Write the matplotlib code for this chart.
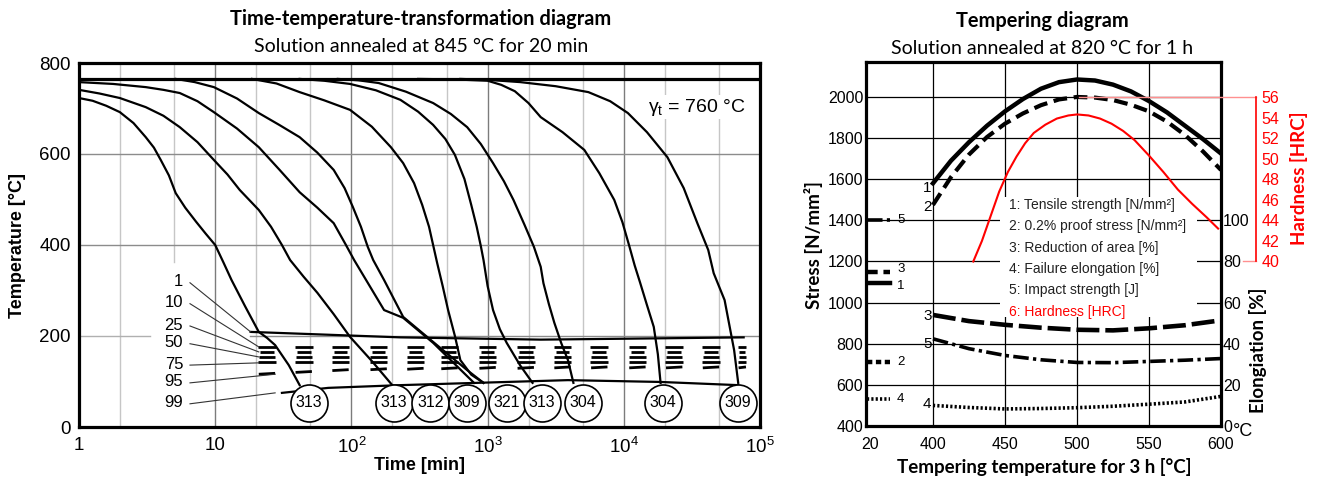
import numpy as np
import matplotlib
matplotlib.use('Agg')
import matplotlib.pyplot as plt
from matplotlib.patches import Rectangle
from matplotlib.ticker import NullLocator
from matplotlib.transforms import blended_transform_factory

plt.rcParams['font.family'] = ['Liberation Sans', 'DejaVu Sans']
plt.rcParams['mathtext.fontset'] = 'custom'
plt.rcParams['mathtext.rm'] = 'Liberation Sans'
plt.rcParams['mathtext.it'] = 'Liberation Sans:italic'
plt.rcParams['mathtext.bf'] = 'Liberation Sans:bold'

# ---------------- TTT diagram (time as log10 of minutes, temperature in C)
gamma_t = 765
a_lgt = [0, 0.10, 0.20, 0.30, 0.40, 0.49, 0.55, 0.60, 0.66, 0.71, 0.78, 0.86, 0.93, 1.0, 1.06,
         1.12, 1.22, 1.32, 1.38, 1.44, 1.54, 1.62]
a_T = [723, 717, 706, 692, 668, 637, 614, 587, 553, 514, 482, 451, 425, 400, 362,
       323, 265, 209, 196, 180, 136, 92]
b_lgt = [0, 0.15, 0.30, 0.49, 0.62, 0.74, 0.87, 0.99, 1.09, 1.18, 1.32, 1.41, 1.49, 1.55, 1.65,
         1.75, 1.87, 1.99, 2.15, 2.30]
b_T = [741, 733, 723, 703, 684, 659, 626, 587, 555, 521, 477, 440, 400, 367, 330,
       295, 248, 198, 145, 92]
c_lgt = [0, 0.25, 0.49, 0.62, 0.74, 0.87, 0.99, 1.16, 1.32, 1.47, 1.62, 1.75, 1.87, 1.96, 2.02,
         2.13, 2.24, 2.38, 2.60, 2.90]
c_T = [758, 754, 747, 741, 734, 716, 692, 656, 615, 566, 516, 482, 448, 400, 367,
       312, 257, 240, 185, 97]
d_lgt = [0.71, 0.85, 0.99, 1.16, 1.32, 1.47, 1.62, 1.75, 1.87, 1.95, 2.01, 2.07, 2.12, 2.16, 2.24,
         2.38, 2.60, 2.85, 2.97]
d_T = [765, 758, 747, 722, 690, 664, 637, 603, 565, 525, 484, 440, 396, 367, 323,
       242, 187, 125, 97]
e_lgt = [1.27, 1.45, 1.62, 1.80, 1.99, 2.15, 2.29, 2.38, 2.46, 2.52, 2.57, 2.60, 2.63, 2.67, 2.71,
         2.76, 2.80, 2.88, 2.97]
e_T = [765, 755, 736, 718, 697, 660, 615, 580, 536, 488, 440, 400, 360, 310, 257,
       200, 147, 115, 97]
f_lgt = [1.62, 1.80, 1.99, 2.18, 2.36, 2.49, 2.60, 2.69, 2.76, 2.83, 2.88, 2.92, 2.95, 2.97, 3.00,
         3.04, 3.09, 3.14, 3.24, 3.33]
f_T = [765, 761, 754, 740, 719, 693, 664, 633, 598, 545, 488, 440, 398, 367, 310,
       257, 215, 185, 135, 97]
g_lgt = [1.90, 2.05, 2.20, 2.40, 2.60, 2.73, 2.85, 2.95, 3.04, 3.12, 3.19, 3.27, 3.34, 3.39, 3.41,
         3.45, 3.49, 3.54, 3.59, 3.63]
g_T = [765, 762, 756, 737, 712, 688, 659, 622, 580, 540, 499, 445, 396, 352, 316,
       270, 229, 185, 147, 97]
h_lgt = [2.49, 2.75, 3.00, 3.10, 3.20, 3.30, 3.39, 3.55, 3.71, 3.82, 3.93, 3.99, 4.04, 4.08, 4.12,
         4.17, 4.22, 4.25, 4.27]
h_T = [765, 764, 761, 752, 738, 712, 681, 648, 609, 558, 499, 450, 398, 355, 317,
       268, 220, 160, 97]
i_lgt = [2.80, 3.00, 3.24, 3.50, 3.74, 3.90, 4.03, 4.17, 4.32, 4.44, 4.54, 4.62, 4.66, 4.74, 4.81,
         4.84]
i_T = [765, 763, 758, 749, 736, 716, 690, 648, 593, 525, 448, 389, 338, 279, 169,
       97]

start_lgt = [1.26, 2.36, 3.39, 4.00, 4.88]
start_T = [209, 197, 192, 194, 197]
finish_lgt = [1.49, 1.83, 2.36, 3.59, 4.27, 4.84]
finish_T = [75, 86, 92, 103, 99, 92]

group_lgt = [1.38, 1.65, 1.92, 2.20, 2.47, 2.72, 3.00, 3.28, 3.55, 3.82, 4.10, 4.37, 4.64, 4.87]
group_w = [1, 1, 1, 1, 1, 1, 1, 1, 1, 1, 1, 1, 1, 0.45]
row_T = [176, 165, 154, 143]
row_w = [0.13, 0.10, 0.12, 0.13]
t95_T = [117, 121, 125, 127, 128, 129, 130, 130, 131, 131, 131, 131, 131, 131]

circ_lgt = [1.69, 2.31, 2.58, 2.85, 3.14, 3.40, 3.70, 4.29, 4.84]
circ_txt = ['313', '313', '312', '309', '321', '313', '304', '304', '309']
circ_T = 53

pct_txt = ['1', '10', '25', '50', '75', '95', '99']
pct_T = [319, 273, 224, 185, 138, 99, 53]
pct_tip_lgt = [1.26, 1.32, 1.32, 1.32, 1.32, 1.44, 1.44]
pct_tip_T = [209, 176, 165, 154, 141, 116, 75]

# ---------------- Tempering diagram
temp_fine = [400, 412.5, 425, 437.5, 450, 462.5, 475, 487.5, 500, 512.5, 525, 537.5, 550, 562.5,
             575, 587.5, 600]
tensile = [1580, 1690, 1780, 1860, 1930, 1990, 2040, 2072, 2085, 2080, 2060, 2027, 1980, 1925,
           1860, 1795, 1725]
proof = [1475, 1610, 1720, 1805, 1870, 1920, 1960, 1988, 2000, 1997, 1985, 1962, 1930, 1880,
         1815, 1735, 1645]
temp = [400, 425, 450, 475, 500, 525, 550, 575, 600]
reduction = [54, 51, 49.2, 47.8, 46.8, 46.5, 47.5, 49, 51.4]
impact = [42.4, 37.6, 34.3, 32.2, 30.9, 30.8, 31.4, 32, 32.8]
elong = [10, 9, 8.3, 8.5, 8.9, 9.6, 10.6, 11.7, 14.4]
hard_temp = [428, 434, 440, 446, 452, 458, 464, 470, 478, 486, 494, 500, 508, 516, 524, 532, 540,
             550, 560, 570, 580, 590, 598]
hard = [40, 42.0, 44.4, 46.8, 48.7, 50.2, 51.5, 52.5, 53.3, 53.9, 54.2, 54.3, 54.2, 53.9, 53.4,
        52.7, 51.8, 50.3, 48.7, 47.0, 45.6, 44.3, 43.2]
rt_tensile, rt_proof = 1095, 710
rt_reduction, rt_elong, rt_impact = 75, 13, 100

legend_txt = ['1: Tensile strength [N/mm²]', '2: 0.2% proof stress [N/mm²]',
              '3: Reduction of area [%]', '4: Failure elongation [%]',
              '5: Impact strength [J]', '6: Hardness [HRC]']

W, H = 1320, 480
fig = plt.figure(figsize=(13.2, 4.8), dpi=100)

def fx(px):
    return px / W

def fy(py):
    return 1 - py / H

# ================= left: TTT
ax = fig.add_axes([fx(79), fy(427), (760 - 79) / W, (427 - 63) / H])
ax.set_xscale('log')
ax.set_xlim(1, 1e5)
ax.set_ylim(0, 800)

for d in range(5):
    for m in (2, 5):
        lo = 362 / 800 if (d == 0 and m == 5) else 0
        ax.axvline(m * 10 ** d, ymin=lo, color='#c6c6c6', lw=1, zorder=0.5)
for d in range(1, 5):
    ax.axvline(10 ** d, color='#7c7c7c', lw=1, zorder=0.5)
for T in (400, 600):
    ax.axhline(T, color='#8c8c8c', lw=1, zorder=0.5)
ax.axhline(200, xmax=np.log10(3.3) / 5, color='#b0b0b0', lw=1, zorder=0.5)
ax.axhline(200, xmin=np.log10(18) / 5, color='#8c8c8c', lw=1, zorder=0.5)

ax.axhline(gamma_t, color='k', lw=2.3, zorder=3)

for lg, T in [(a_lgt, a_T), (b_lgt, b_T), (c_lgt, c_T), (d_lgt, d_T), (e_lgt, e_T),
              (f_lgt, f_T), (g_lgt, g_T), (h_lgt, h_T), (i_lgt, i_T)]:
    ax.plot(10 ** np.array(lg), T, color='k', lw=1.6, zorder=3, solid_joinstyle='round')

ax.plot(10 ** np.array(start_lgt), start_T, color='k', lw=1.6, zorder=3)
ax.plot(10 ** np.array(finish_lgt), finish_T, color='k', lw=1.6, zorder=3)

for c, gw, t95 in zip(group_lgt, group_w, t95_T):
    for T, w in zip(row_T, row_w):
        ax.plot(10 ** np.array([c - w * gw / 2, c + w * gw / 2]), [T, T], color='k', lw=2,
                solid_capstyle='butt', zorder=3)
    ax.plot(10 ** np.array([c - 0.06 * gw, c + 0.06 * gw]), [t95 - 1, t95 + 1], color='k', lw=2,
            solid_capstyle='butt', zorder=3)

for txt, T, tl, tT in zip(pct_txt, pct_T, pct_tip_lgt, pct_tip_T):
    ax.text(10 ** 0.765, T, txt, ha='right', va='center', fontsize=12, zorder=4)
    ax.plot([10 ** 0.815, 10 ** tl], [T - 2, tT], color='#333333', lw=0.8, zorder=3)

ax.scatter(10 ** np.array(circ_lgt), [circ_T] * len(circ_lgt), s=710, facecolor='white',
           edgecolor='k', lw=1.2, zorder=5, clip_on=False)
for c, txt in zip(circ_lgt, circ_txt):
    ax.text(10 ** c, circ_T, txt, ha='center', va='center', fontsize=11.5, zorder=6)

ax.text(10 ** 4.89, 703, 'γ$_\\mathregular{t}$ = 760 °C', ha='right', va='center', fontsize=14,
        zorder=4, bbox=dict(facecolor='white', edgecolor='none', pad=1))

ax.set_xticks([1, 10, 100, 1e3, 1e4, 1e5])
ax.set_xticklabels(['1', '10', '$\\mathregular{10^2}$', '$\\mathregular{10^3}$',
                    '$\\mathregular{10^4}$', '$\\mathregular{10^5}$'])
ax.xaxis.set_minor_locator(NullLocator())
ax.set_yticks([0, 200, 400, 600, 800])
ax.tick_params(length=0, labelsize=13.5)
ax.tick_params(axis='x', pad=7)
ax.tick_params(axis='y', pad=6)
for s in ax.spines.values():
    s.set_linewidth(2.3)

fig.text(fx(421), fy(19), 'Time-temperature-transformation diagram', ha='center', va='center',
         fontsize=14.4, fontweight='bold', family='Lato')
fig.text(fx(421), fy(46), 'Solution annealed at 845 °C for 20 min', ha='center', va='center',
         fontsize=14, family='Lato')
fig.text(fx(420), fy(466), 'Time [min]', ha='center', va='center', fontsize=13, fontweight='bold')
fig.text(fx(18), fy(245), 'Temperature [°C]', ha='center', va='center', rotation=90,
         fontsize=13, fontweight='bold')

# ================= right: tempering
ax2 = fig.add_axes([fx(866), fy(426), (1221 - 866) / W, (426 - 62) / H])
ax2.set_xlim(353.5, 600)
ax2.set_ylim(400, 2170)
ax_el = ax2.twinx()
ax_el.set_ylim(0, 177)
ax_h = ax2.twinx()
ax_h.set_ylim(24, 59.4)

for v in (400, 450, 500, 550):
    ax2.axvline(v, color='k', lw=0.9, zorder=0.5)
for s in range(600, 2001, 200):
    ax2.axhline(s, color='k', lw=0.9, zorder=0.5)

ax2.add_patch(Rectangle((446.5, 930), 583 - 446.5, 1514 - 930, facecolor='white',
                        edgecolor='none', zorder=1))
for k, txt in enumerate(legend_txt):
    ax2.text(452.8, 1475 - k * 104, txt, ha='left', va='center', fontsize=10,
             color='red' if k == 5 else '#222222', zorder=2)

ax2.plot(temp_fine, tensile, color='k', lw=3.2, zorder=3)
ax2.plot(temp_fine, proof, color='k', lw=3, ls=(0, (3.3, 1.6)), zorder=3)
ax_el.plot(temp, reduction, color='k', lw=3.3, ls=(0, (5, 1.3)))
ax_el.plot(temp, impact, color='k', lw=2.6, ls=(0, (4.3, 1.2, 0.9, 1.2)))
ax_el.plot(temp, elong, color='k', lw=2.6, ls=(0, (0.6, 0.6)))
ax_h.plot(hard_temp, hard, color='red', lw=1.5)

rt_span = [354, 370]
ax2.plot(rt_span, [rt_tensile] * 2, color='k', lw=3.2)
ax2.plot(rt_span, [rt_proof] * 2, color='k', lw=3.2, ls=(0, (1.2, 0.8)))
ax_el.plot(rt_span, [rt_reduction] * 2, color='k', lw=3.2, ls=(0, (2.4, 1.3)))
ax_el.plot(rt_span, [rt_impact] * 2, color='k', lw=2.6, ls=(0, (4.3, 1.2, 0.9, 1.2)))
ax_el.plot(rt_span, [rt_elong] * 2, color='k', lw=2.6, ls=(0, (0.6, 0.6)))

# curve numbers at room temperature; 3 and 1 nudged apart so they do not touch
ax2.text(375, rt_tensile - 12, '1', va='center', fontsize=9.5)
ax2.text(375, rt_proof, '2', va='center', fontsize=9.5)
ax_el.text(375, rt_reduction + 1.5, '3', va='center', fontsize=9.5)
ax_el.text(375, rt_impact, '5', va='center', fontsize=9.5)
ax_el.text(375, rt_elong, '4', va='center', fontsize=9.5)
ax2.text(399, 1557, '1', ha='right', va='center', fontsize=11)
ax2.text(399, 1465, '2', ha='right', va='center', fontsize=11)
ax_el.text(399, 53.5, '3', ha='right', va='center', fontsize=11)
ax_el.text(399, 40, '5', ha='right', va='center', fontsize=11)
ax_el.text(399, 10.7, '4', ha='right', va='center', fontsize=11)

# red reference lines to the hardness spine
tr = blended_transform_factory(ax2.transAxes, ax_h.transData)
ax_h.plot([0.6, 1.099], [56, 56], color='#ff9090', lw=1, transform=tr, clip_on=False)
ax_h.plot([1.062, 1.099], [40, 40], color='#ff9090', lw=1, transform=tr, clip_on=False)

ax2.set_xticks([356, 400, 450, 500, 550, 600])
ax2.set_xticklabels(['20', '400', '450', '500', '550', '600'])
ax2.set_yticks(range(400, 2001, 200))
ax2.tick_params(length=0, labelsize=11.5)
ax2.tick_params(axis='x', pad=8)
ax2.tick_params(axis='y', pad=2)
for s in ax2.spines.values():
    s.set_linewidth(2.3)

for s in ax_el.spines.values():
    s.set_visible(False)
ax_el.set_yticks(range(0, 101, 20))
ax_el.tick_params(length=0, pad=1.5, labelsize=11.5)

for k, s in ax_h.spines.items():
    s.set_visible(k == 'right')
ax_h.spines['right'].set_position(('axes', 1.099))
ax_h.spines['right'].set_bounds(40, 56)
ax_h.spines['right'].set_color('red')
ax_h.spines['right'].set_linewidth(1.2)
ax_h.set_yticks(range(40, 57, 2))
ax_h.tick_params(length=0, pad=4, labelsize=11.5, colors='red')

ax2.text(1.062, -0.016, '°C', transform=ax2.transAxes, ha='center', va='center', fontsize=13)

fig.text(fx(1042), fy(21), 'Tempering diagram', ha='center', va='center', fontsize=14.4,
         fontweight='bold', family='Lato')
fig.text(fx(1042), fy(48), 'Solution annealed at 820 °C for 1 h', ha='center', va='center',
         fontsize=14, family='Lato')
fig.text(fx(1044), fy(467), 'Tempering temperature for 3 h [°C]', ha='center', va='center',
         fontsize=13.5, fontweight='bold', family='Lato')
fig.text(fx(813), fy(245), 'Stress [N/mm²]', ha='center', va='center', rotation=90,
         fontsize=13.5, fontweight='bold', family='Lato')
fig.text(fx(1258), fy(350), 'Elongiation [%]', ha='center', va='center', rotation=90,
         fontsize=13.5, fontweight='bold', family='Lato')
fig.text(fx(1299), fy(178), 'Hardness [HRC]', ha='center', va='center', rotation=90,
         fontsize=13.5, fontweight='bold', family='Lato', color='red')

fig.savefig('out.png', dpi=100)
